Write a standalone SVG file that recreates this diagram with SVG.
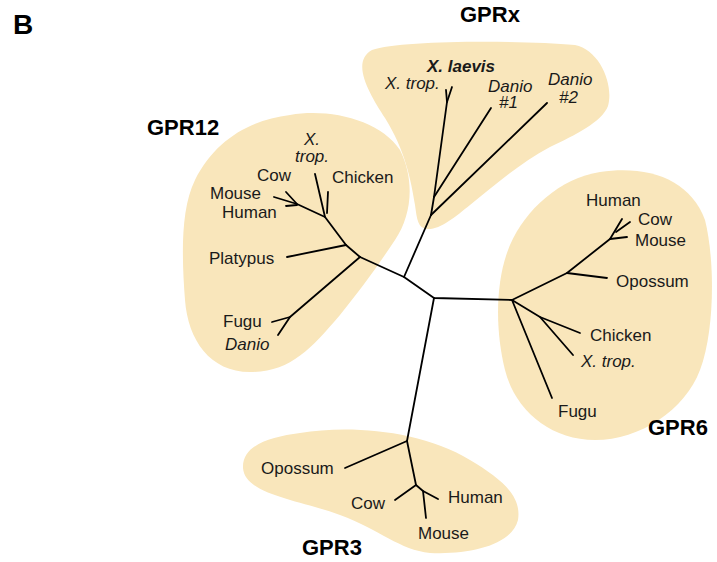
<svg xmlns="http://www.w3.org/2000/svg" width="717" height="562" viewBox="0 0 717 562">
<style>
.blob{fill:#F9E6BB;stroke:none}
.br{fill:none;stroke:#000;stroke-width:1.8;stroke-linecap:round;stroke-linejoin:round}
text{font-family:"Liberation Sans",Arial,sans-serif;font-size:17px;fill:#1a1a1a}
.it{font-style:italic}
.bi{font-style:italic;font-weight:bold}
.grp{font-weight:bold;font-size:22px;fill:#000}
.panel{font-weight:bold;font-size:28px;fill:#000}
</style>
<rect width="717" height="562" fill="#fff"/>
<text class="panel" x="13" y="34">B</text>

<g id="blobs">
<path class="blob" d="M 372,50 C 400,40 520,40 575,45 C 600,50 614,85 608,106 C 602,122 575,135 550,147 C 520,163 495,185 470,205 C 455,217 440,230 427,229 C 418,228 417,220 415,205 C 411,180 405,150 385,118 C 370,95 350,62 372,50 Z"/>
<path class="blob" d="M 290,115 C 330,108 380,120 400,150 C 415,180 412,215 395,240 C 375,270 360,290 340,315 C 310,350 290,372 250,372 C 210,372 188,340 185,300 C 182,260 180,210 195,180 C 215,140 250,120 290,115 Z"/>
<path class="blob" d="M 600,172 C 650,165 690,180 705,220 C 715,260 715,330 700,370 C 685,410 640,440 595,440 C 550,440 515,410 505,370 C 495,330 495,280 510,245 C 525,210 560,178 600,172 Z"/>
<path class="blob" d="M 300,433 C 350,425 420,430 470,460 C 500,478 522,495 518,520 C 512,545 470,555 430,553 C 400,550 380,530 340,515 C 300,500 245,495 243,468 C 242,445 270,437 300,433 Z"/>
</g>

<g id="connectors">
<path class="br" d="M 360,257 L 404,277 L 434,298 L 512,300"/>
<path class="br" d="M 404,277 L 431,215"/>
<path class="br" d="M 434,298 L 407,441"/>
<path class="br" d="M 431,215 L 547,103"/>
<path class="br" d="M 431,215 L 434,197 L 447,102 L 446,90"/>
<path class="br" d="M 447,102 L 452,87"/>
<path class="br" d="M 434,197 L 491,108"/>
<path class="br" d="M 360,257 L 346,245 L 325,217 L 315,174"/>
<path class="br" d="M 346,245 L 287,257"/>
<path class="br" d="M 327,213 L 328,192"/>
<path class="br" d="M 325,217 L 297,204 L 274,197"/>
<path class="br" d="M 297,204 L 286,192"/>
<path class="br" d="M 297,205 L 286,206"/>
<path class="br" d="M 360,257 L 290,317 L 272,322"/>
<path class="br" d="M 290,317 L 278,335"/>
<path class="br" d="M 512,300 L 567,273 L 610,239 L 622,219"/>
<path class="br" d="M 567,273 L 607,278"/>
<path class="br" d="M 616,232 L 630,222"/>
<path class="br" d="M 610,239 L 627,237"/>
<path class="br" d="M 512,300 L 540,317 L 580,333"/>
<path class="br" d="M 540,317 L 573,355"/>
<path class="br" d="M 512,300 L 552,398"/>
<path class="br" d="M 407,441 L 345,468"/>
<path class="br" d="M 407,441 L 416,485 L 395,500"/>
<path class="br" d="M 416,485 L 423,491 L 438,499"/>
<path class="br" d="M 423,491 L 426,518"/>
</g>

<g id="GPRx">
<text class="grp" x="460" y="22">GPRx</text>
<text class="bi" x="427" y="72">X. laevis</text>
<text class="it" x="385" y="89">X. trop.</text>
<text class="it" x="488" y="92">Danio</text>
<text class="it" x="499" y="108">#1</text>
<text class="it" x="548" y="85">Danio</text>
<text class="it" x="559" y="103">#2</text>
</g>

<g id="GPR12">
<text class="grp" x="147" y="135">GPR12</text>
<text class="it" x="304" y="145">X.</text>
<text class="it" x="295" y="162">trop.</text>
<text x="257" y="181">Cow</text>
<text x="332" y="183">Chicken</text>
<text x="210" y="199">Mouse</text>
<text x="222" y="218">Human</text>
<text x="209" y="264">Platypus</text>
<text x="223" y="327">Fugu</text>
<text class="it" x="225" y="350">Danio</text>
</g>

<g id="GPR6">
<text class="grp" x="648" y="435">GPR6</text>
<text x="586" y="206">Human</text>
<text x="638" y="225">Cow</text>
<text x="635" y="246">Mouse</text>
<text x="616" y="287">Opossum</text>
<text x="590" y="341">Chicken</text>
<text class="it" x="581" y="367">X. trop.</text>
<text x="558" y="417">Fugu</text>
</g>

<g id="GPR3">
<text class="grp" x="302" y="555">GPR3</text>
<text x="261" y="474">Opossum</text>
<text x="351" y="509">Cow</text>
<text x="448" y="503">Human</text>
<text x="418" y="539">Mouse</text>
</g>
</svg>
